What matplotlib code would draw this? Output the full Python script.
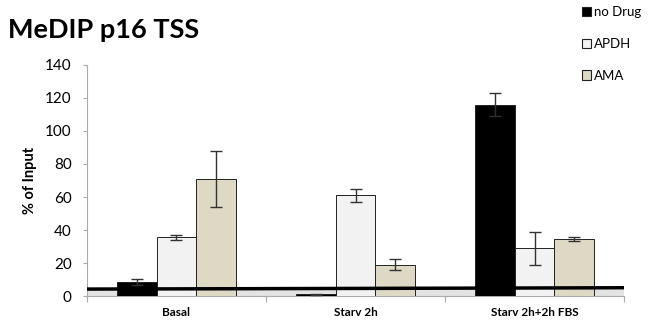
import matplotlib.pyplot as plt
from matplotlib.patches import Patch
import numpy as np

plt.rcParams['font.family'] = ['Lato', 'DejaVu Sans']

categories = ['Basal', 'Starv 2h', 'Starv 2h+2h FBS']
series = ['no Drug', 'APDH', 'AMA']
values = {
    'no Drug': [8.5, 1.0, 116.0],
    'APDH': [35.5, 61.0, 29.0],
    'AMA': [71.0, 19.0, 34.5],
}
errors = {
    'no Drug': [2.0, 0.4, 7.0],
    'APDH': [1.5, 4.0, 10.0],
    'AMA': [17.0, 3.5, 1.0],
}
colors = {'no Drug': '#000000', 'APDH': '#f2f2f2', 'AMA': '#ddd9c4'}
baseline = [4.2, 5.0]  # thick reference line, left / right end

fig = plt.figure(figsize=(6.51, 3.24), dpi=100)
ax = fig.add_axes([0.1336, 0.0864, 0.825, 0.713])

x = np.arange(len(categories))
w = 0.223
for i, s in enumerate(series):
    ax.bar(x + (i - 1) * w, values[s], w, color=colors[s], edgecolor='#222222',
           linewidth=0.7, zorder=3)
    ax.errorbar(x + (i - 1) * w, values[s], yerr=errors[s], fmt='none',
                ecolor='#333333', elinewidth=1.0, capsize=4, capthick=1.0, zorder=4)

# grey floor band and thick black line
ax.fill_between([-0.5, 2.5], 0, 3.6, color='#e3e3e3', zorder=1, linewidth=0)
ax.plot([-0.5, 2.5], baseline, color='black', linewidth=2.5, zorder=5,
        solid_capstyle='butt')

ax.set_xlim(-0.5, 2.5)
ax.set_ylim(0, 140)
ax.set_yticks(range(0, 141, 20))
ax.tick_params(axis='y', labelsize=11, length=3, color='#aaaaaa', pad=8)
ax.set_xticks([-0.5, 0.5, 1.5, 2.5])
ax.set_xticklabels([])
ax.tick_params(axis='x', length=4, color='#aaaaaa')
for xi, c in zip(x, categories):
    ax.text(xi, -6.5, c, ha='center', va='top', fontsize=8.5, fontweight='bold')
for side in ['top', 'right']:
    ax.spines[side].set_visible(False)
for side in ['left', 'bottom']:
    ax.spines[side].set_color('#aaaaaa')
ax.set_ylabel('% of Input', fontsize=10.5, fontweight='bold', labelpad=6)

fig.text(0.012, 0.907, 'MeDIP p16 TSS', fontsize=19.5, fontweight='bold', va='center')

handles = [Patch(facecolor=colors[s], edgecolor='#222222', linewidth=0.8) for s in series]
fig.legend(handles, series, loc='upper left', bbox_to_anchor=(0.88, 1.01),
           frameon=False, fontsize=9.5, handlelength=0.7, handleheight=0.7,
           handletextpad=0.2, labelspacing=1.5, borderaxespad=0.3)

fig.savefig('out.png', dpi=100)
